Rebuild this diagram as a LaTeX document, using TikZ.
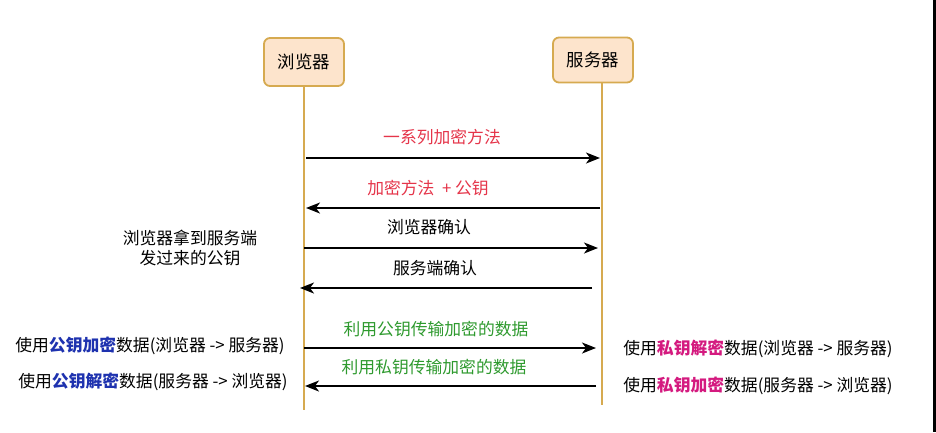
\documentclass[tikz,border=0pt]{standalone}
\usepackage{fontspec}
\setmainfont{Noto Sans CJK SC}
\usetikzlibrary{positioning, arrows.meta}
\definecolor{peach}{RGB}{253, 228, 204}
\definecolor{goldline}{RGB}{214, 170, 80}
\definecolor{msgred}{RGB}{229, 53, 74}
\definecolor{keyblue}{RGB}{30, 50, 175}
\definecolor{keypink}{RGB}{212, 26, 127}
\definecolor{msggreen}{RGB}{46, 154, 46}

\begin{document}
\begin{tikzpicture}[x=1pt, y=-1pt,
                actor/.style={draw=goldline, fill=peach, line width=1.8pt,
                    rounded corners=6pt, minimum width=80pt,
                    minimum height=48pt, align=center,
                    font=\fontsize{17.4}{20}\selectfont},
                life/.style={goldline, line width=1.6pt},
                msg/.style={-{Stealth[length=14pt, width=11pt, inset=4pt]},
                    line width=1.6pt, black},
                msglbl/.style={font=\fontsize{16.8}{19}\selectfont, inner sep=1pt},
                note/.style={font=\fontsize{16.8}{20}\selectfont, align=center,
                    inner sep=1pt}
            ]
                \useasboundingbox (0,0) rectangle (936,432);
                \fill[white] (0,0) rectangle (936,432);
                \fill[black] (933,0) rectangle (936,432);

                \node[actor] (browser) at (304, 62) {浏览器};
                \node[actor, minimum height=45pt] (server) at (593, 60) {服务器};

                \coordinate (bend) at (304, 410);
                \coordinate (send) at (602, 405);
                \draw[life] (browser.south) -- (bend);
                \draw[life] (server.south -| send) -- (send);

                % handshake
                \coordinate (b1) at (306, 158);
                \coordinate (s1) at (600, 158);
                \draw[msg] (b1) -- (s1);
                \node[msglbl, text=msgred] (m1) at (442, 137) {一系列加密方法};

                \coordinate (s2) at (600, 208);
                \coordinate (b2) at (306, 208);
                \draw[msg] (s2) -- (b2);
                \node[msglbl, text=msgred] (m2) at (428, 188) {加密方法\ \ + 公钥};

                \coordinate (b3) at (304, 248);
                \coordinate (s3) at (598, 248);
                \draw[msg] (b3) -- (s3);
                \node[msglbl] (m3) at (429, 227) {浏览器确认};

                \coordinate (s4) at (592, 288);
                \coordinate (b4) at (300, 288);
                \draw[msg] (s4) -- (b4);
                \node[msglbl] (m4) at (435, 268) {服务端确认};

                \node[note] (gotkey) at (190, 248) {浏览器拿到服务端\\发过来的公钥};

                % data transfer
                \coordinate (b5) at (304, 348);
                \coordinate (s5) at (596, 348);
                \draw[msg] (b5) -- (s5);
                \node[msglbl, text=msggreen] (m5) at (436, 329) {利用公钥传输加密的数据};

                \coordinate (s6) at (596, 386);
                \coordinate (b6) at (305, 386);
                \draw[msg] (s6) -- (b6);
                \node[msglbl, text=msggreen] (m6) at (434, 367) {利用私钥传输加密的数据};

                \node[note] (bsend) at (150, 346)
                    {使用\textcolor{keyblue}{\bfseries 公钥加密}数据(浏览器 -> 服务器)};
                \node[note] (brecv) at (153, 382)
                    {使用\textcolor{keyblue}{\bfseries 公钥解密}数据(服务器 -> 浏览器)};
                \node[note] (srecv) at (758, 349)
                    {使用\textcolor{keypink}{\bfseries 私钥解密}数据(浏览器 -> 服务器)};
                \node[note] (ssend) at (758, 386)
                    {使用\textcolor{keypink}{\bfseries 私钥加密}数据(服务器 -> 浏览器)};

            \end{tikzpicture}
\end{document}
